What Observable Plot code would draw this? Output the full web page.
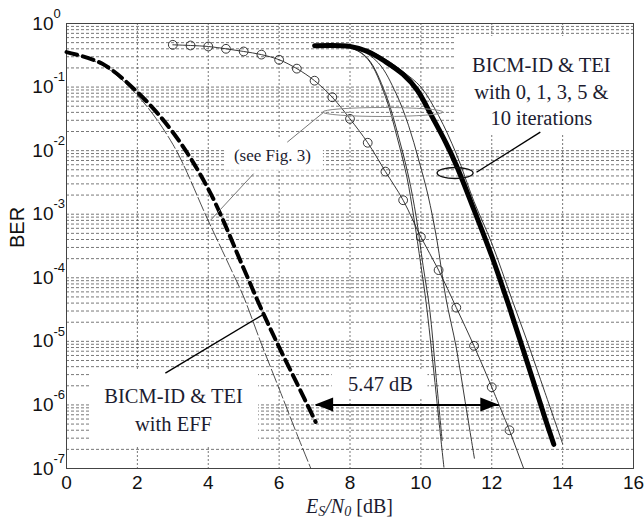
<!DOCTYPE html>
<html><head><meta charset="utf-8">
<script src="https://cdn.jsdelivr.net/npm/d3@7"></script>
<script src="https://cdn.jsdelivr.net/npm/@observablehq/plot@0.6"></script>
<style>body{margin:0;background:#fff;} #chart{width:644px;height:520px;}</style>
</head><body><div id="chart"></div>
<script>
// ---- axis ticks ----
const xTickValues = [0, 2, 4, 6, 8, 10, 12, 14, 16];
const xGridValues = [2, 4, 6, 8, 10, 12, 14];
const yDecades = [1e-7, 1e-6, 1e-5, 1e-4, 1e-3, 1e-2, 1e-1, 1];
const yExponents = ["-7", "-6", "-5", "-4", "-3", "-2", "-1", "0"];

// ---- BICM-ID & TEI with EFF (thick dashed) ----
const effSNR = [0, 1, 2, 3, 4, 5, 5.5, 6, 6.5, 7.03];
const effBER = [0.355, 0.234, 0.0832, 0.0195, 2.5e-3, 1.4e-4, 3.2e-5, 8.1e-6, 2.2e-6, 5.4e-7];
// ---- reference curve (thin dashed, see Fig. 3) ----
const refSNR = [0, 1, 2, 3, 4, 4.68, 5, 5.5, 6, 6.5, 7];
const refBER = [0.355, 0.224, 0.074, 0.0126, 7.9e-4, 1.23e-4, 5.0e-5, 9.1e-6, 1.8e-6, 3.5e-7, 7.2e-8];
// ---- circle-marked curve ----
const circSNR = [3, 3.5, 4, 4.5, 5, 5.5, 6, 6.5, 7, 7.5, 8, 8.5, 9, 9.5, 10, 10.5, 11, 11.5, 12, 12.5];
const circBER = [0.462, 0.451, 0.435, 0.400, 0.363, 0.324, 0.269, 0.195, 0.126, 0.0692, 0.0316, 0.0133,
                 4.68e-3, 1.66e-3, 4.37e-4, 1.32e-4, 3.39e-5, 8.5e-6, 1.9e-6, 4.0e-7];
const circTailSNR = [12.5, 13.0];
const circTailBER = [4.0e-7, 7.1e-8];
// ---- iterations curves ----
const thickSNR = [7.0, 8.0, 8.5, 9.0, 9.5, 9.9, 10.3, 10.7, 11.0, 11.5, 12.0, 12.5, 13.0, 13.5, 13.75];
const thickBER = [0.447, 0.437, 0.363, 0.251, 0.158, 0.0891, 0.0355, 0.0135, 5.9e-3, 1.17e-3, 2.2e-4, 3.4e-5, 4.7e-6, 6.3e-7, 2.4e-7];
const itEsnr = [7.0, 8.0, 8.5, 9.0, 9.5, 10.0, 10.5, 11.0, 11.5, 12.0, 12.58, 13.0, 13.5, 14.0];
const itEber = [0.447, 0.437, 0.38, 0.275, 0.174, 0.1, 0.0355, 8.9e-3, 1.58e-3, 3.5e-4, 4.4e-5, 1.0e-5, 1.58e-6, 2.45e-7];
const itDsnr = [7.0, 8.2, 8.8, 9.3, 9.65, 9.94, 10.2, 10.45, 10.7, 11.0, 11.25, 11.51];
const itDber = [0.447, 0.398, 0.24, 0.0794, 0.0251, 7.1e-3, 2.0e-3, 4.0e-4, 5.0e-5, 7.9e-6, 1.12e-6, 1.45e-7];
const itAsnr = [7.0, 8.0, 8.5, 9.0, 9.33, 9.6, 9.8, 10.0, 10.15, 10.36, 10.5, 10.65];
const itAber = [0.447, 0.417, 0.275, 0.0708, 0.0162, 3.98e-3, 8.9e-4, 1.58e-4, 3.98e-5, 3.55e-6, 6.3e-7, 1.05e-7];
const itBsnr = [7.0, 8.0, 8.5, 9.0, 9.38, 9.65, 9.87, 10.06, 10.25, 10.42, 10.6];
const itBber = [0.447, 0.417, 0.282, 0.0794, 0.0158, 3.98e-3, 8.9e-4, 1.58e-4, 3.16e-5, 3.16e-6, 2.75e-7];

// ---- annotations ----
const noteIter = "BICM-ID & TEI\nwith 0, 1, 3, 5 &\n10 iterations";
const noteIterX = 13.4, noteIterY = 0.09;
const noteFig = "(see Fig. 3)";
const noteFigX = 5.81, noteFigY = 0.0084;
const noteEff = "BICM-ID & TEI\nwith EFF";
const noteEffX = 3.02, noteEffY = 9.0e-7;
const noteGap = "5.47 dB";
const noteGapX = 8.86, noteGapY = 2.1e-6;
// white boxes behind the notes (data units)
const boxX1 = [10.98, 4.49, 0.68, 7.5];
const boxX2 = [16, 7.25, 5.42, 10.2];
const boxY1 = [0.625, 0.0155, 3.5e-6, 3.5e-6];
const boxY2 = [0.018, 0.0049, 2.15e-7, 1.27e-6];
// leader lines
const leadX1 = [13.37, 2.79], leadY1 = [0.0195, 3.16e-6];
const leadX2 = [11.57, 5.57], leadY2 = [4.57e-3, 2.69e-5];
const greyX1 = [6.23, 5.28], greyY1 = [0.0136, 4.34e-3];
const greyX2 = [7.26, 4.06], greyY2 = [0.0403, 8.0e-4];
// ellipses
const ellX = [8.94, 10.98], ellY = [0.0398, 4.37e-3];
// 5.47 dB arrow
const arrowX = [7.03, 12.2], arrowY = 1e-6;

const rows = (xs, ys) => xs.map((x, i) => ({x, y: ys[i]}));
const yGridValues = d3.scaleLog().domain([1e-7, 1]).ticks();
const boxes = boxX1.map((d, i) => ({x1: d, x2: boxX2[i], y1: boxY1[i], y2: boxY2[i]}));
const leads = leadX1.map((d, i) => ({x1: d, y1: leadY1[i], x2: leadX2[i], y2: leadY2[i]}));
const greys = greyX1.map((d, i) => ({x1: d, y1: greyY1[i], x2: greyX2[i], y2: greyY2[i]}));
const decadeRows = yDecades.map((d, i) => ({y: d, e: yExponents[i]}));
const thin = {stroke: "#222", strokeWidth: 0.9, curve: "catmull-rom", clip: true};
const serif = "Liberation Serif, Cambria, serif";
const txtCol = "#1c1c30";

const chart = Plot.plot({
  width: 644, height: 520,
  marginLeft: 66, marginRight: 11, marginTop: 23, marginBottom: 52,
  style: {fontFamily: "Liberation Sans, Arial, sans-serif", fontSize: "19px", color: "#111", background: "#fff"},
  x: {domain: [0, 16], ticks: xTickValues, tickSize: 0, tickPadding: 7, label: null},
  y: {type: "log", domain: [1e-7, 1], ticks: yDecades, tickFormat: () => "10", tickSize: 0, tickPadding: 13, label: null},
  marks: [
    Plot.ruleY(yGridValues, {stroke: "#555", strokeWidth: 0.8, strokeDasharray: "3,2"}),
    Plot.ruleX(xGridValues, {stroke: "#555", strokeWidth: 0.8, strokeDasharray: "2,2"}),
    Plot.rect(boxes, {x1: "x1", x2: "x2", y1: "y1", y2: "y2", fill: "white"}),
    Plot.frame({stroke: "#444", strokeWidth: 1}),
    Plot.text(decadeRows, {x: () => 0, y: "y", text: "e", dx: -13, dy: -10, textAnchor: "start", fontSize: 13}),
    Plot.text(["BER"], {frameAnchor: "left", rotate: -90, dx: -49, dy: 2, fontSize: 20}),
    // curves
    Plot.line(rows(refSNR, refBER), {x: "x", y: "y", ...thin, strokeWidth: 0.8, strokeDasharray: "14,3"}),
    Plot.line(rows(effSNR, effBER), {x: "x", y: "y", stroke: "black", strokeWidth: 4, strokeDasharray: "11,6", curve: "catmull-rom"}),
    Plot.line(rows(circSNR, circBER), {x: "x", y: "y", ...thin}),
    Plot.line(rows(circTailSNR, circTailBER), {x: "x", y: "y", ...thin}),
    Plot.dot(rows(circSNR, circBER), {x: "x", y: "y", r: 4.4, stroke: "#222", strokeWidth: 0.9, fill: "none"}),
    Plot.line(rows(itAsnr, itAber), {x: "x", y: "y", ...thin}),
    Plot.line(rows(itBsnr, itBber), {x: "x", y: "y", ...thin}),
    Plot.line(rows(itDsnr, itDber), {x: "x", y: "y", ...thin}),
    Plot.line(rows(itEsnr, itEber), {x: "x", y: "y", ...thin}),
    Plot.line(rows(thickSNR, thickBER), {x: "x", y: "y", stroke: "black", strokeWidth: 5, curve: "catmull-rom"}),
    // leaders
    Plot.link(leads, {x1: "x1", y1: "y1", x2: "x2", y2: "y2", stroke: "black", strokeWidth: 1.4}),
    Plot.link(greys, {x1: "x1", y1: "y1", x2: "x2", y2: "y2", stroke: "#777", strokeWidth: 1}),
    Plot.link([{x1: arrowX[0], x2: arrowX[1], y: arrowY}], {x1: "x1", x2: "x2", y1: "y", y2: "y", stroke: "black", strokeWidth: 2}),
    // notes
    Plot.text([noteIter], {x: () => noteIterX, y: () => noteIterY, fontFamily: serif, fontSize: 20.5, lineHeight: 1.3, fill: txtCol}),
    Plot.text([noteFig], {x: () => noteFigX, y: () => noteFigY, fontFamily: serif, fontSize: 17, fill: txtCol}),
    Plot.text([noteEff], {x: () => noteEffX, y: () => noteEffY, fontFamily: serif, fontSize: 20.5, lineHeight: 1.4, fill: txtCol}),
    Plot.text([noteGap], {x: () => noteGapX, y: () => noteGapY, fontFamily: serif, fontSize: 20.5, fill: txtCol})
  ]
});
document.getElementById("chart").appendChild(chart);

// extra shapes using the plot's own scales
const sx = chart.scale("x"), sy = chart.scale("y");
const svg = d3.select(chart);
const g = svg.append("g");
const ellStyle = [{rx: 60, ry: 4.5, stroke: "#888", w: 1}, {rx: 18, ry: 5.5, stroke: "#111", w: 1.4}];
ellX.forEach((ex, i) => {
  g.append("ellipse").attr("cx", sx.apply(ex)).attr("cy", sy.apply(ellY[i]))
    .attr("rx", ellStyle[i].rx).attr("ry", ellStyle[i].ry)
    .attr("fill", "none").attr("stroke", ellStyle[i].stroke).attr("stroke-width", ellStyle[i].w);
});
const ay = sy.apply(arrowY);
const ax0 = sx.apply(arrowX[0]), ax1 = sx.apply(arrowX[1]);
g.append("polygon").attr("points", `${ax0},${ay} ${ax0 + 18},${ay - 7} ${ax0 + 18},${ay + 7}`).attr("fill", "black");
g.append("polygon").attr("points", `${ax1},${ay} ${ax1 - 18},${ay - 7} ${ax1 - 18},${ay + 7}`).attr("fill", "black");
// x-axis label with subscripts
const xl = g.append("text").attr("x", sx.apply(8)).attr("y", 513).attr("text-anchor", "middle")
  .attr("font-family", serif).attr("font-size", 20).attr("fill", txtCol);
xl.append("tspan").attr("font-style", "italic").text("E");
xl.append("tspan").attr("font-style", "italic").attr("font-size", 14).attr("dy", 3).text("S");
xl.append("tspan").attr("font-style", "italic").attr("dy", -3).text("/N");
xl.append("tspan").attr("font-style", "italic").attr("font-size", 14).attr("dy", 3).text("0");
xl.append("tspan").attr("dy", -3).text(" [dB]");
</script>
</body></html>
